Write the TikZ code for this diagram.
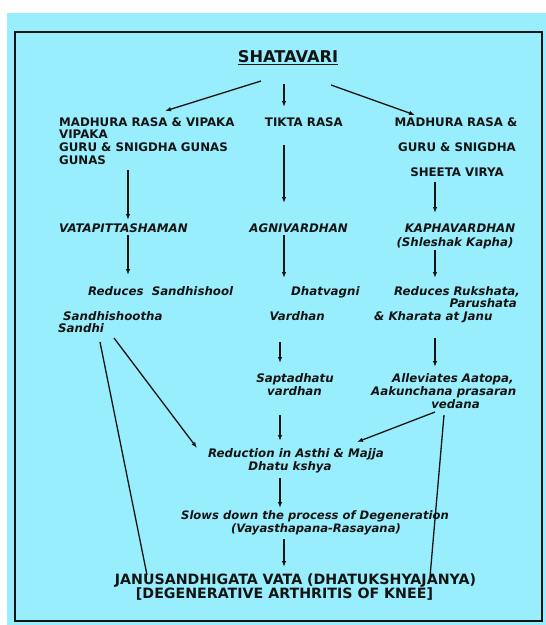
\documentclass[tikz,border=0pt]{standalone}
\usepackage{fontspec}
\setmainfont{DejaVu Sans}
\usetikzlibrary{arrows.meta}
\definecolor{bgcyan}{RGB}{152,238,252}
\definecolor{ink}{RGB}{20,20,20}
\begin{document}
\begin{tikzpicture}[x=1pt,y=-1pt,
  up/.style={inner sep=0pt,text=ink,font=\fontsize{11.8}{13}\selectfont\bfseries},
  it/.style={inner sep=0pt,text=ink,font=\fontsize{11.8}{13}\selectfont\bfseries\itshape},
  big/.style={inner sep=0pt,text=ink,font=\fontsize{14.2}{16}\selectfont\bfseries},
  L/.style={anchor=base west},
  C/.style={anchor=base},
  R/.style={anchor=base east},
  arr/.style={draw=ink,line width=1.3pt,-{Latex[length=6pt,width=4.5pt]}},
  ln/.style={draw=ink,line width=1.3pt}]
\useasboundingbox (0,0) rectangle (546,625);
\fill[white] (0,0) rectangle (546,625);
\fill[bgcyan] (7,13) rectangle (546,625);
\draw[ink,line width=2pt] (15,32) rectangle (542,621);

% title
\node[inner sep=0pt,text=ink,font=\fontsize{16.2}{18}\selectfont\bfseries,C] (title) at (288,62) {SHATAVARI};
\draw[ink,line width=1.5pt] ([yshift=-2.5pt]title.base west) -- ([yshift=-2.5pt]title.base east);

% row 1
\node[up,L] (m1) at (59,126) {MADHURA RASA \& VIPAKA};
\node[up,L] (m2) at (59,138.5) {VIPAKA};
\node[up,L] (m3) at (59,151.5) {GURU \& SNIGDHA GUNAS};
\node[up,L] (m4) at (59,164) {GUNAS};
\node[up,R] (tikta) at (343,126) {TIKTA RASA};
\node[up,C] (r1) at (456,126) {MADHURA RASA \&};
\node[up,C] (r2) at (457,151.5) {GURU \& SNIGDHA};
\node[up,C] (r3) at (457,176.5) {SHEETA VIRYA};

% row 2
\node[it,L] (vata) at (59,232) {VATAPITTASHAMAN};
\node[it,R] (agni) at (348,232) {AGNIVARDHAN};
\node[it,C] (kapha1) at (460,232) {KAPHAVARDHAN};
\node[it,C] (kapha2) at (455,246) {(Shleshak Kapha)};

% row 3
\node[it,L] (red) at (88,295) {Reduces\ \ Sandhishool};
\node[it,L] (sand1) at (63,320) {Sandhishootha};
\node[it,L] (sand2) at (58,332) {Sandhi};
\node[it,L] (dhat) at (291,295) {Dhatvagni};
\node[it,R] (vard) at (325,320) {Vardhan};
\node[it,L] (ruk1) at (394,295) {Reduces Rukshata,};
\node[it,R] (ruk2) at (517,307.5) {Parushata};
\node[it,L] (ruk3) at (374,320) {\& Kharata at Janu};

% row 4
\node[it,C] (sap1) at (295,382) {Saptadhatu};
\node[it,C] (sap2) at (294.5,395) {vardhan};
\node[it,L] (all1) at (392,382) {Alleviates Aatopa,};
\node[it,L] (all2) at (371,395) {Aakunchana prasaran};
\node[it,C] (all3) at (455.5,408) {vedana};

% row 5
\node[it,C] (redu1) at (296,457) {Reduction in Asthi \& Majja};
\node[it,C] (redu2) at (290,470) {Dhatu kshya};

% row 6
\node[it,C,font=\fontsize{11.6}{13}\selectfont\bfseries\itshape] (slow1) at (315,519) {Slows down the process of Degeneration};
\node[it,C,font=\fontsize{11.6}{13}\selectfont\bfseries\itshape] (slow2) at (316,532) {(Vayasthapana-Rasayana)};

% row 7
\node[big,C] (janu1) at (295.5,584) {JANUSANDHIGATA VATA (DHATUKSHYAJANYA)};
\node[big,C] (janu2) at (284.5,598) {[DEGENERATIVE ARTHRITIS OF KNEE]};

% connector end points
\coordinate (a1s) at (261,81);  \coordinate (a1e) at (165,111);
\coordinate (a2s) at (284,84);  \coordinate (a2e) at (284,107);
\coordinate (a3s) at (331,85);  \coordinate (a3e) at (415,115);
\coordinate (a4s) at (128,170); \coordinate (a4e) at (128,220);
\coordinate (a5s) at (284,145); \coordinate (a5e) at (284,203);
\coordinate (a6s) at (435,182); \coordinate (a6e) at (435,213);
\coordinate (a7s) at (128,235); \coordinate (a7e) at (128,275);
\coordinate (a8s) at (284,235); \coordinate (a8e) at (284,278);
\coordinate (a9s) at (435,250); \coordinate (a9e) at (435,278);
\coordinate (b1s) at (280,342); \coordinate (b1e) at (280,363);
\coordinate (b2s) at (435,338); \coordinate (b2e) at (435,367);
\coordinate (b3s) at (280,415); \coordinate (b3e) at (280,441);
\coordinate (b4s) at (435,412); \coordinate (b4e) at (357,442);
\coordinate (b5s) at (114,338); \coordinate (b5e) at (197,448);
\coordinate (l1s) at (100,342); \coordinate (l1e) at (147,575);
\coordinate (l2s) at (444,415); \coordinate (l2e) at (430,577);
\coordinate (c1s) at (280,478); \coordinate (c1e) at (280,508);
\coordinate (c2s) at (284,539); \coordinate (c2e) at (284,567);

\draw[arr] (a1s) -- (a1e);
\draw[arr] (a2s) -- (a2e);
\draw[arr] (a3s) -- (a3e);
\draw[arr] (a4s) -- (a4e);
\draw[arr] (a5s) -- (a5e);
\draw[arr] (a6s) -- (a6e);
\draw[arr] (a7s) -- (a7e);
\draw[arr] (a8s) -- (a8e);
\draw[arr] (a9s) -- (a9e);
\draw[arr] (b1s) -- (b1e);
\draw[arr] (b2s) -- (b2e);
\draw[arr] (b3s) -- (b3e);
\draw[arr] (b4s) -- (b4e);
\draw[arr] (b5s) -- (b5e);
\draw[ln] (l1s) -- (l1e);
\draw[ln] (l2s) -- (l2e);
\draw[arr] (c1s) -- (c1e);
\draw[arr] (c2s) -- (c2e);
\end{tikzpicture}
\end{document}
